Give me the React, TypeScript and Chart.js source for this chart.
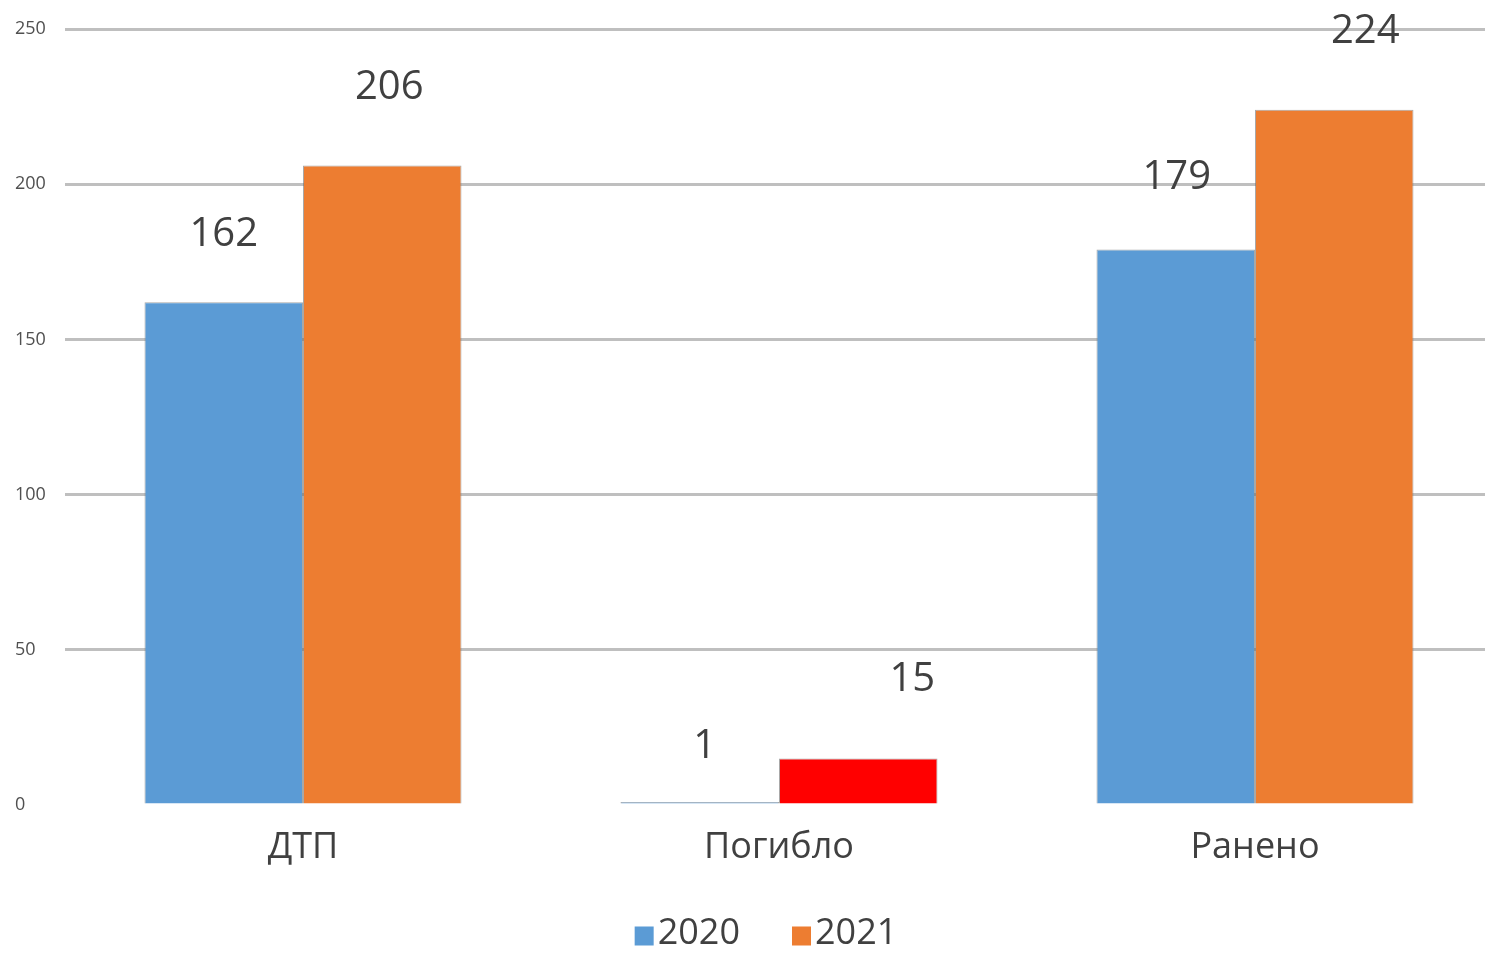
import React, { useEffect, useRef } from "react";
import { Chart, registerables } from "chart.js";

Chart.register(...registerables);

const categories = ["ДТП", "Погибло", "Ранено"];
const seriesNames = ["2020", "2021"];
const values2020 = [162, 1, 179];
const values2021 = [206, 15, 224];
const yTicks = [0, 50, 100, 150, 200, 250];

const BLUE = "#5B9BD5";
const ORANGE = "#ED7D31";
const RED = "#FF0000";
const colors2021 = [ORANGE, RED, ORANGE];
const TEXT = "#404040";
const FONT = "'Open Sans', 'Noto Sans', sans-serif";

// label offsets (px) relative to each bar's top, per series
const labelDx = [
  [0, 5, 1],
  [7, 54, 31],
];
const labelDy = [
  [68, 55, 72],
  [78, 79, 78],
];

const dataLabelPlugin = {
  id: "dataLabels",
  afterDatasetsDraw(chart: any) {
    const ctx = chart.ctx;
    ctx.save();
    ctx.font = `40px ${FONT}`;
    ctx.fillStyle = TEXT;
    ctx.textAlign = "center";
    ctx.textBaseline = "middle";
    chart.data.datasets.forEach((ds: any, di: number) => {
      const meta = chart.getDatasetMeta(di);
      meta.data.forEach((bar: any, i: number) => {
        ctx.fillText(String(ds.data[i]), bar.x + labelDx[di][i], bar.y - labelDy[di][i]);
      });
    });
    ctx.restore();
  },
};

const legendPlugin = {
  id: "customLegend",
  afterDraw(chart: any) {
    const ctx = chart.ctx;
    ctx.save();
    ctx.font = `36px ${FONT}`;
    ctx.textBaseline = "middle";
    ctx.textAlign = "left";
    const box = 19;
    const gap = 4;
    const itemGap = 52;
    const items = chart.data.datasets.map((ds: any, i: number) => ({
      text: ds.label,
      color: i === 0 ? BLUE : ORANGE,
      w: box + gap + ctx.measureText(ds.label).width,
    }));
    const total = items.reduce((a: number, it: any) => a + it.w, 0) + itemGap * (items.length - 1);
    let x = 766 - total / 2;
    const y = 934;
    items.forEach((it: any) => {
      ctx.fillStyle = it.color;
      ctx.fillRect(x, y - box / 2 + 2, box, box);
      ctx.fillStyle = TEXT;
      ctx.fillText(it.text, x + box + gap, y);
      x += it.w + itemGap;
    });
    ctx.restore();
  },
};

export default function App() {
  const ref = useRef<HTMLCanvasElement | null>(null);
  useEffect(() => {
    if (!ref.current) return;
    const chart = new Chart(ref.current, {
      type: "bar",
      data: {
        labels: categories,
        datasets: [
          {
            label: seriesNames[0],
            data: values2020,
            backgroundColor: BLUE,
            borderColor: "rgba(110,110,110,0.6)",
            borderWidth: 1,
          },
          {
            label: seriesNames[1],
            data: values2021,
            backgroundColor: (c: any) =>
              c.dataIndex != null ? colors2021[c.dataIndex] : ORANGE,
            borderColor: "rgba(110,110,110,0.6)",
            borderWidth: 1,
          },
        ],
      },
      options: {
        animation: false,
        responsive: false,
        maintainAspectRatio: false,
        layout: { padding: { top: 29, left: 15, right: 7, bottom: 38 } },
        datasets: {
          bar: { categoryPercentage: 0.666, barPercentage: 1 },
        },
        plugins: {
          tooltip: { enabled: false },
          legend: { display: false },
        },
        scales: {
          x: {
            grid: { display: false, drawTicks: false },
            border: { display: false },
            ticks: {
              font: { family: FONT, size: 36 },
              color: TEXT,
              padding: 21,
            },
            afterFit: (s: any) => {
              s.height = 110;
            },
          },
          y: {
            min: 0,
            max: 250,
            afterBuildTicks: (s: any) => {
              s.ticks = yTicks.map((v) => ({ value: v }));
            },
            grid: {
              drawTicks: false,
              color: (c: any) => (c.tick && c.tick.value === 0 ? "rgba(0,0,0,0)" : "#BFBFBF"),
              lineWidth: 3,
            },
            border: { display: false },
            ticks: {
              font: { family: FONT, size: 18 },
              color: "#505050",
              crossAlign: "far",
              padding: 0,
            },
            afterFit: (s: any) => {
              s.width = 50;
            },
          },
        },
      },
      plugins: [dataLabelPlugin, legendPlugin],
    } as any);
    return () => chart.destroy();
  }, []);
  return (
    <div
      style={{
        position: "absolute",
        left: 0,
        top: 0,
        width: 1485,
        height: 953,
        overflow: "hidden",
        background: "#fff",
      }}
    >
      <canvas ref={ref} width={1500} height={953} style={{ width: 1500, height: 953 }} />
    </div>
  );
}
